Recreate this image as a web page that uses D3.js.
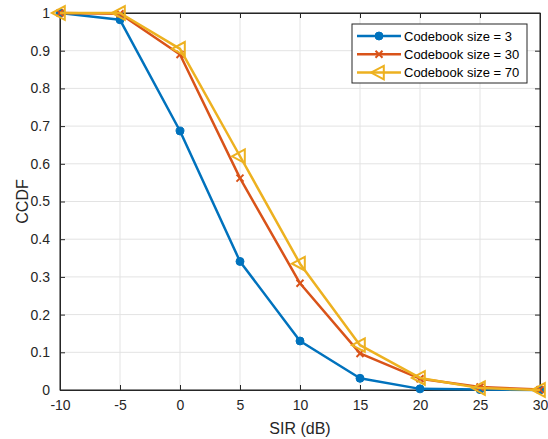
<!DOCTYPE html>
<html lang="en">
<head>
<meta charset="UTF-8">
<title>CCDF vs SIR</title>
<script src="https://cdnjs.cloudflare.com/ajax/libs/d3/7.8.5/d3.min.js"></script>
<style>
  body { margin: 0; background: #fff; }
  svg { font-family: "Liberation Sans", Arial, Helvetica, sans-serif; }
</style>
</head>
<body>
<div id="chart"></div>
<script>
// data
const sir = [-10, -5, 0, 5, 10, 15, 20, 25, 30];
const cb3  = [1, 0.982, 0.687, 0.341, 0.13, 0.031, 0.003, 0.001, 0];
const cb30 = [1, 0.998, 0.89, 0.562, 0.283, 0.097, 0.03, 0.008, 0.001];
const cb70 = [1, 1, 0.905, 0.62, 0.335, 0.119, 0.032, 0.005, 0];
const seriesNames = ["Codebook size = 3", "Codebook size = 30", "Codebook size = 70"];
const xTicks = [-10, -5, 0, 5, 10, 15, 20, 25, 30];
const yTicks = [0, 0.1, 0.2, 0.3, 0.4, 0.5, 0.6, 0.7, 0.8, 0.9, 1];

const W = 548, H = 439;
const margin = {top: 13, right: 8, bottom: 49, left: 60};
const width = W - margin.left - margin.right;
const height = H - margin.top - margin.bottom;

const svg = d3.select("#chart").append("svg")
    .attr("width", W).attr("height", H);
const g = svg.append("g")
    .attr("transform", `translate(${margin.left},${margin.top})`);

const x = d3.scaleLinear().domain([-10, 30]).range([0, width]);
const y = d3.scaleLinear().domain([0, 1]).range([height, 0]);

// grid
g.append("g").selectAll("line").data(xTicks).enter().append("line")
    .attr("x1", d => x(d)).attr("x2", d => x(d))
    .attr("y1", 0).attr("y2", height)
    .attr("stroke", "#e3e3e3").attr("stroke-width", 1);
g.append("g").selectAll("line").data(yTicks).enter().append("line")
    .attr("x1", 0).attr("x2", width)
    .attr("y1", d => y(d)).attr("y2", d => y(d))
    .attr("stroke", "#e3e3e3").attr("stroke-width", 1);

// box + axes
const axisColor = "#262626";
g.append("rect").attr("width", width).attr("height", height)
    .attr("fill", "none").attr("stroke", axisColor).attr("stroke-width", 1);

// plain hyphen for negatives, like the original
const fmtX = d => String(d);
const fmtY = d => (d === 0 || d === 1) ? String(d) : d.toFixed(1);

const xAxis = g.append("g").attr("transform", `translate(0,${height})`)
    .call(d3.axisBottom(x).tickValues(xTicks).tickSize(-5).tickPadding(10).tickFormat(fmtX));
const xAxisTop = g.append("g")
    .call(d3.axisTop(x).tickValues(xTicks).tickSize(-5).tickFormat(""));
const yAxis = g.append("g")
    .call(d3.axisLeft(y).tickValues(yTicks).tickSize(-5).tickPadding(10).tickFormat(fmtY));
const yAxisRight = g.append("g").attr("transform", `translate(${width},0)`)
    .call(d3.axisRight(y).tickValues(yTicks).tickSize(-5).tickFormat(""));

[xAxis, xAxisTop, yAxis, yAxisRight].forEach(a => {
    a.select(".domain").attr("stroke", axisColor);
    a.selectAll(".tick line").attr("stroke", axisColor);
    a.selectAll(".tick text").attr("fill", axisColor).attr("font-size", 14);
});
xAxis.selectAll(".tick text").attr("dy", "0.71em");

// labels
svg.append("text").attr("x", margin.left + width / 2).attr("y", 434)
    .attr("text-anchor", "middle").attr("font-size", 16).attr("fill", axisColor)
    .text("SIR (dB)");
svg.append("text").attr("transform", `translate(28,${margin.top + height / 2}) rotate(-90)`)
    .attr("text-anchor", "middle").attr("font-size", 16).attr("fill", axisColor)
    .text("CCDF");

// series
const colors = ["#0072BD", "#D95319", "#EDB120"];
const allSeries = [cb3, cb30, cb70];
const line = d3.line().x((d, i) => x(sir[i])).y(d => y(d));

function drawMarker(sel, k, cx, cy) {
    if (k === 0) {
        sel.append("circle").attr("cx", cx).attr("cy", cy).attr("r", 4)
            .attr("fill", colors[0]).attr("stroke", colors[0]);
    } else if (k === 1) {
        const s = 3.5;
        sel.append("path")
            .attr("d", `M${cx - s},${cy - s}L${cx + s},${cy + s}M${cx - s},${cy + s}L${cx + s},${cy - s}`)
            .attr("stroke", colors[1]).attr("stroke-width", 2).attr("fill", "none");
    } else {
        const s = 8;
        sel.append("path")
            .attr("d", `M${cx - s},${cy}L${cx + s * 0.6},${cy - s * 0.85}L${cx + s * 0.6},${cy + s * 0.85}Z`)
            .attr("stroke", colors[2]).attr("stroke-width", 2).attr("fill", "none");
    }
}

allSeries.forEach((vals, k) => {
    const sg = g.append("g");
    sg.append("path").datum(vals).attr("d", line)
        .attr("fill", "none").attr("stroke", colors[k]).attr("stroke-width", 2.5)
        .attr("stroke-linejoin", "round");
    vals.forEach((v, i) => drawMarker(sg, k, x(sir[i]), y(v)));
});

// legend
const lg = svg.append("g").attr("transform", "translate(352,24)");
lg.append("rect").attr("width", 175).attr("height", 59)
    .attr("fill", "#fff").attr("stroke", axisColor).attr("stroke-width", 1);
seriesNames.forEach((name, k) => {
    const yy = 12 + k * 18.3;
    lg.append("line").attr("x1", 5).attr("x2", 49).attr("y1", yy).attr("y2", yy)
        .attr("stroke", colors[k]).attr("stroke-width", 2.5);
    drawMarker(lg, k, 27, yy);
    lg.append("text").attr("x", 52).attr("y", yy).attr("dy", "0.35em")
        .attr("font-size", 13).attr("fill", "#000").text(name);
});
</script>
</body>
</html>
